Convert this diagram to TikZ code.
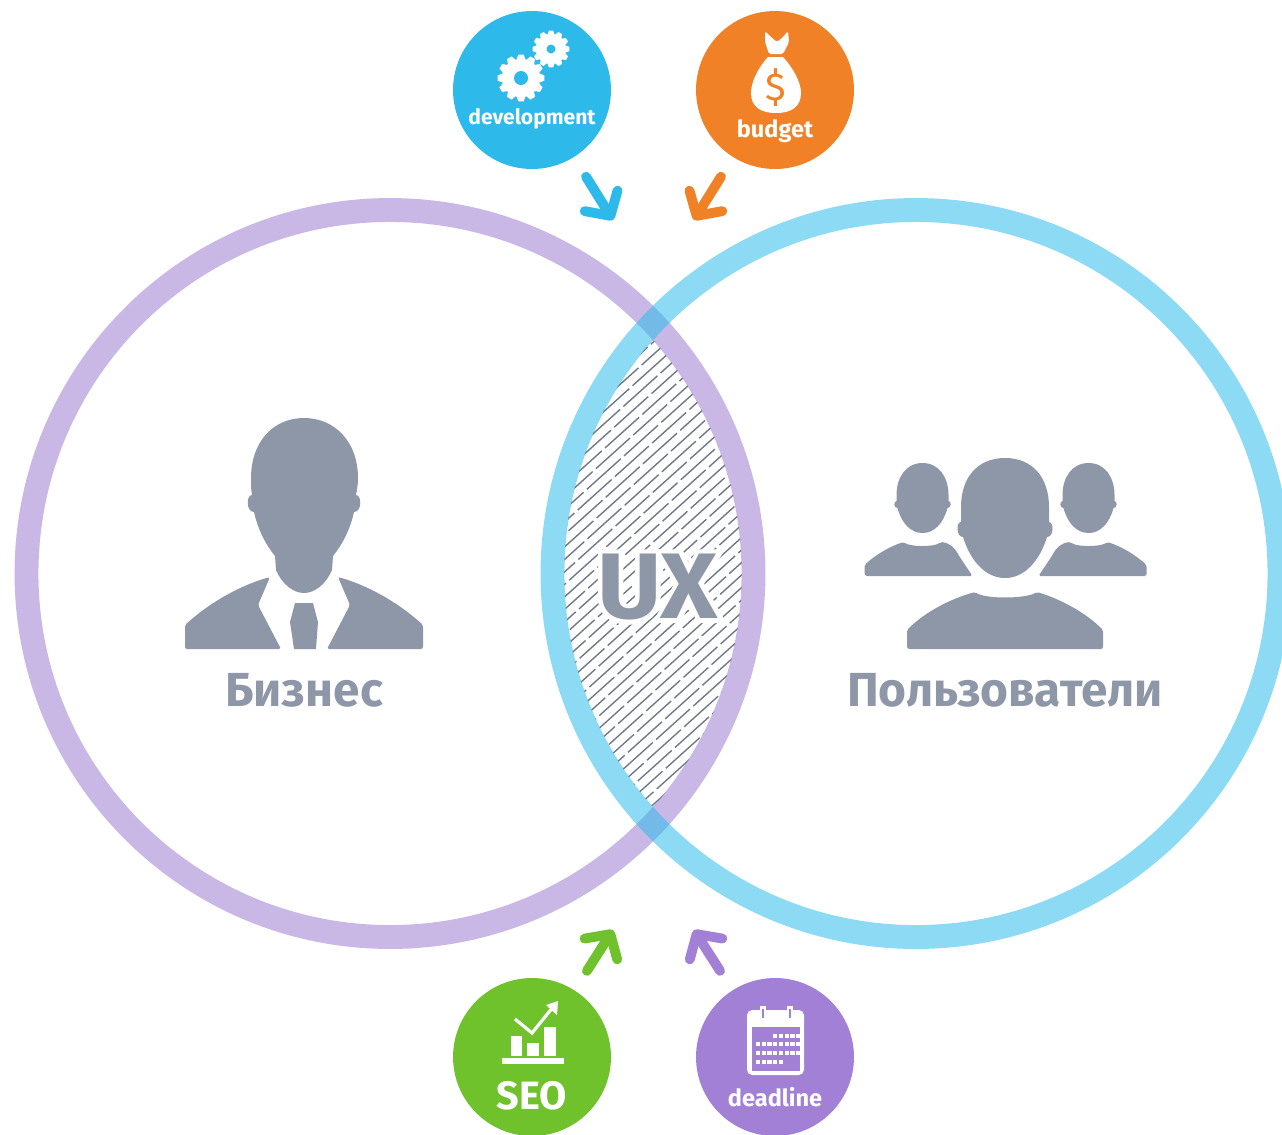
\documentclass[tikz,border=0pt]{standalone}
\usepackage{fontspec}
\setmainfont{Fira Sans}
\newfontface\uxfont[FakeStretch=1.06]{Fira Sans Bold}
\newfontface\uxhalo[FakeStretch=1.06,FakeBold=10]{Fira Sans Bold}
\usetikzlibrary{arrows.meta}
\definecolor{ringblue}{HTML}{2FBBEC}
\definecolor{ringviolet}{HTML}{9D7ED1}
\definecolor{devblue}{HTML}{2DB9EA}
\definecolor{budgetorange}{HTML}{F08126}
\definecolor{seogreen}{HTML}{6FC22B}
\definecolor{deadviolet}{HTML}{A180D6}
\definecolor{slate}{HTML}{8E97A8}
\tikzset{
    % Rings and round badges
    ring/.style={line width=13.6pt, opacity=0.55},
    badge/.style={circle, minimum size=3.16cm, inner sep=0pt},
    badge label/.style={font=\bfseries\fontsize{13.4}{14}\selectfont, white, inner sep=0pt},
    big label/.style={font=\bfseries\fontsize{27.2}{30}\selectfont, slate, inner sep=0pt},
    % Short thick arrows
    flow/.style={line width=5.6pt, line cap=round, shorten <=13pt,
        -{Straight Barb[round, length=10pt, width=22pt]}},
    % Hatching of the overlap
    hatch/.style={line width=0.8pt, slate!80!black, dash pattern=on 26pt off 2.5pt},
}
\begin{document}
\begin{tikzpicture}[x=0.02cm, y=-0.02cm]
    \useasboundingbox (0,0) rectangle (1282,1134);

    % Hatched overlap
    \begin{scope}
        \clip (390,573.5) circle [radius=352];
        \clip (916,573.5) circle [radius=352];
        \foreach \k in {0,...,60} {
            \draw[hatch, dash phase={\k*7pt}] (500,{330+12.5*\k}) -- (800,{60+12.5*\k});
        }
    \end{scope}
    \node[font=\uxhalo\fontsize{53}{55}\selectfont, white, inner sep=0pt] (uxhalo) at (657.5,587) {UX};
    \node[font=\uxfont\fontsize{53}{55}\selectfont, slate, inner sep=0pt] (ux) at (657.5,587) {UX};

    % Rings
    \draw[ring, ringviolet] (390,573.5) circle [radius=363.5];
    \draw[ring, ringblue] (916,573.5) circle [radius=363.5];

    % Badges
    \node[badge, fill=devblue] (dev) at (532,90) {};
    \node[badge, fill=budgetorange] (budget) at (775,90) {};
    \node[badge, fill=seogreen] (seo) at (532,1057) {};
    \node[badge, fill=deadviolet] (dead) at (775,1057) {};
    \node[badge label, font=\bfseries\fontsize{12}{14}\selectfont] (devtext) at (532,119) {development};
    \node[badge label] (budgettext) at (775,131) {budget};
    \node[badge label, font=\bfseries\fontsize{22.5}{24}\selectfont] (seotext) at (532,1096) {SEO};
    \node[badge label] (deadtext) at (775,1097) {deadline};

    % Arrows
    \coordinate (devtip) at (613,220);
    \coordinate (budgettip) at (694,220);
    \coordinate (seotip) at (613,930);
    \coordinate (deadtip) at (694,930);
    \draw[flow, devblue] (dev) -- (devtip);
    \draw[flow, budgetorange] (budget) -- (budgettip);
    \draw[flow, seogreen] (seo) -- (seotip);
    \draw[flow, deadviolet] (dead) -- (deadtip);

    % Gears
    \foreach \cx/\cy/\r/\h in {521/78/19/7, 551/49/15/4.5} {
        \fill[white] (\cx,\cy) circle [radius=\r];
        \foreach \a in {0,30,...,330} {
            \fill[white, shift={(\cx,\cy)}, rotate=\a]
                ({-\r*0.28},{-\r*0.85}) -- ({-\r*0.14},{-\r*1.23})
                -- ({\r*0.14},{-\r*1.23}) -- ({\r*0.28},{-\r*0.85}) -- cycle;
        }
        \fill[devblue] (\cx,\cy) circle [radius=\h];
    }

    % Money bag
    \fill[white, rounded corners=1pt] (765,31) -- (771,37) -- (777,42) -- (783,37) -- (788,31)
        -- (789,42) -- (783,54) -- (769,54) -- (765,42) -- cycle;
    \fill[white] (768,57) .. controls (758,68) and (751,82) .. (751,93)
        .. controls (751,107) and (761,113) .. (776,113)
        .. controls (791,113) and (801,107) .. (801,93)
        .. controls (801,82) and (793,68) .. (783,57) -- cycle;
    \node[font=\fontsize{22}{24}\selectfont, budgetorange, inner sep=0pt] (dollar) at (776,88) {\$};

    % Chart
    \fill[white] (502,1058) rectangle (564,1064);
    \fill[white] (511,1036) rectangle (522,1056);
    \fill[white] (527,1043) rectangle (539,1056);
    \fill[white] (544,1027) rectangle (556,1056);
    \draw[white, line width=1.8pt] (515,1019) -- (532,1033) -- (553,1007);
    \fill[white] (546,1005) -- (558,1001) -- (557,1015) -- cycle;

    % Calendar
    \fill[white, rounded corners=3pt] (747,1010) rectangle (804,1075);
    \fill[deadviolet] (752,1027) rectangle (800,1071);
    \foreach \x in {763,790} {
        \draw[white, line width=3pt] (\x,1006) -- (\x,1018);
        \draw[deadviolet, line width=0.7pt] (\x,1009) -- (\x,1018);
    }
    \foreach \y/\first/\last in {1036/3/7, 1044/0/7, 1053/0/7, 1062/0/4} {
        \foreach \i in {\first,...,\last} {
            \fill[white] ({756+5.7*\i},{\y-2}) rectangle ({760.3+5.7*\i},{\y+2});
        }
    }

    % Businessman
    \fill[slate] (304,418) .. controls (273,418) and (251,442) .. (251,478)
        .. controls (251,484) and (251,490) .. (252,495)
        .. controls (246,495) and (246,512) .. (254,512)
        .. controls (258,530) and (266,545) .. (275,556)
        -- (276,570) .. controls (282,584) and (293,593) .. (304,593)
        .. controls (315,593) and (326,584) .. (332,570)
        -- (333,556) .. controls (342,545) and (350,530) .. (354,512)
        .. controls (362,512) and (362,495) .. (356,495)
        .. controls (357,490) and (358,484) .. (358,478)
        .. controls (358,442) and (335,418) .. (304,418) -- cycle;
    \fill[slate, rounded corners=1pt] (270,577) .. controls (238,586) and (208,604) .. (185,625)
        -- (185,649) -- (281,649) -- (258,605) -- cycle;
    \fill[slate, rounded corners=1pt] (338,577) .. controls (370,586) and (400,604) .. (423,625)
        -- (423,649) -- (327,649) -- (350,605) -- cycle;
    \fill[slate] (295,603) -- (313,603) -- (318,622) -- (316,649) -- (294,649) -- (290,622) -- cycle;
    \node[big label] (biztext) at (304,690) {Бизнес};

    % Users, two in the back
    \foreach \m in {0,1} {
        \begin{scope}[shift={(1005.5,0)}, xscale={1-2*\m}]
            \fill[slate] (-83,463) .. controls (-100,463) and (-109,478) .. (-109,495)
                -- (-109,501) .. controls (-112,501) and (-112,508) .. (-108,508)
                .. controls (-104,523) and (-95,533) .. (-83,533)
                .. controls (-71,533) and (-62,523) .. (-58,508)
                .. controls (-54,508) and (-54,501) .. (-57,501)
                -- (-57,495) .. controls (-57,478) and (-66,463) .. (-83,463) -- cycle;
            \fill[slate, rounded corners=1pt] (-141,565) .. controls (-130,555) and (-117,547) .. (-102,542)
                .. controls (-95,547) and (-71,547) .. (-65,542)
                .. controls (-55,543) and (-50,549) .. (-47,555)
                -- (-33,576) -- (-141,576) -- cycle;
        \end{scope}
    }
    % Front user
    \fill[slate] (1005,458) .. controls (977,458) and (961,478) .. (961,507)
        -- (961,522) .. controls (956,522) and (956,537) .. (963,537)
        .. controls (970,560) and (985,578) .. (1005,578)
        .. controls (1025,578) and (1040,560) .. (1047,537)
        .. controls (1054,537) and (1054,522) .. (1049,522)
        -- (1049,507) .. controls (1049,478) and (1033,458) .. (1005,458) -- cycle;
    \fill[slate, rounded corners=1pt] (907,630) .. controls (925,612) and (950,599) .. (975,592)
        .. controls (985,599) and (1025,599) .. (1037,592)
        .. controls (1060,599) and (1085,612) .. (1103,630)
        -- (1103,649) -- (907,649) -- cycle;
    \node[big label] (usertext) at (1005,690) {Пользователи};
\end{tikzpicture}
\end{document}
